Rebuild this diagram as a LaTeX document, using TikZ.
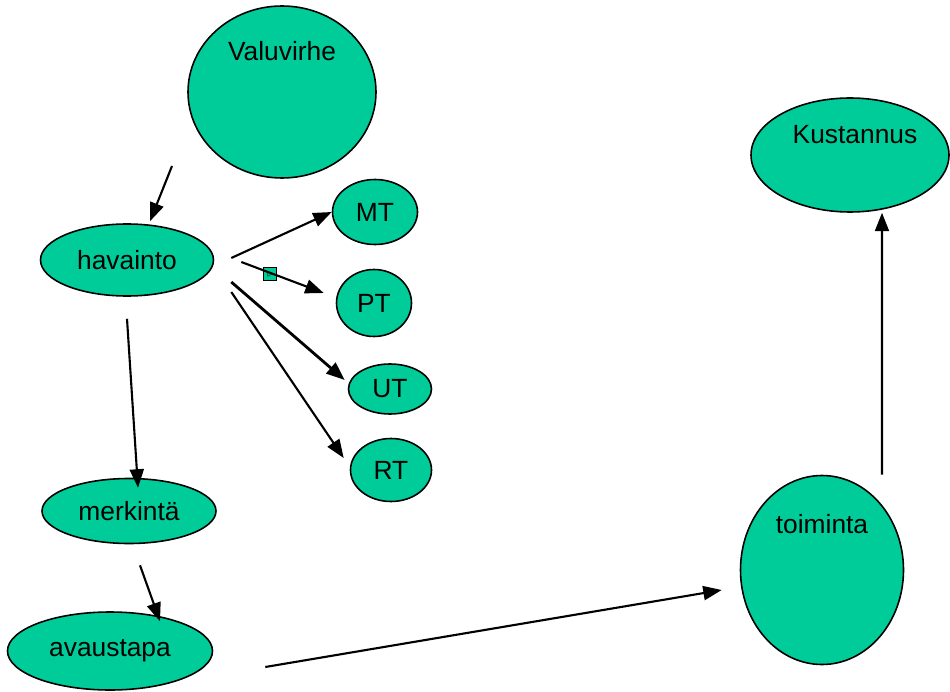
\documentclass[tikz,border=0pt]{standalone}
\usepackage{fontspec}
\setmainfont{Liberation Sans}
\usepackage{tikz}
\usetikzlibrary{shapes.geometric,arrows.meta}
\definecolor{blobgreen}{HTML}{00CC99}
\tikzset{
  blob/.style={ellipse, draw, fill=blobgreen, line width=0.9pt, inner sep=0pt, font=\fontsize{15}{18}\selectfont},
  arr/.style={-{Triangle[length=10.5pt,width=8pt]}, line width=1.2pt}
}
\begin{document}
\begin{tikzpicture}
\useasboundingbox (0,0) rectangle (19,13.82);
\node[blob, minimum width=3.76cm, minimum height=3.44cm, label={[yshift=-1.23cm, font=\fontsize{15}{18}\selectfont]north:Valuvirhe}] (valuvirhe) at (5.64,11.98) {};
\node[blob, minimum width=3.96cm, minimum height=2.28cm, label={[xshift=0.1cm, yshift=-1.05cm, font=\fontsize{15}{18}\selectfont]north:Kustannus}] (kustannus) at (17.0,10.72) {};
\node[blob, minimum width=3.46cm, minimum height=1.44cm] (havainto) at (2.54,8.62) {havainto};
\node[blob, minimum width=1.70cm, minimum height=1.30cm] (mt) at (7.5,9.58) {MT};
\node[blob, minimum width=1.50cm, minimum height=1.34cm] (pt) at (7.48,7.76) {PT};
\node[blob, minimum width=1.66cm, minimum height=1.0cm] (ut) at (7.8,6.04) {UT};
\node[blob, minimum width=1.62cm, minimum height=1.26cm] (rt) at (7.82,4.42) {RT};
\node[blob, minimum width=3.48cm, minimum height=1.30cm] (merkinta) at (2.58,3.6) {merkintä};
\node[blob, minimum width=4.1cm, minimum height=1.56cm] (avaustapa) at (2.2,0.8) {avaustapa};
\node[blob, minimum width=3.26cm, minimum height=3.78cm, label={[yshift=-1.31cm, font=\fontsize{15}{18}\selectfont]north:toiminta}] (toiminta) at (16.44,2.42) {};
\node[draw, fill=blobgreen, line width=0.7pt, minimum size=0.25cm, inner sep=0pt, font=\tiny] (merkki) at (5.4,8.34) {$\triangleright$};

\draw[arr] ([shift={(-2.2,-1.48)}]valuvirhe.center) -- ([xshift=0.46cm,yshift=0.04cm]havainto.north);
\draw[arr] ([xshift=0.34cm,yshift=0.04cm]havainto.east) -- (mt.west);
\draw[arr] ([xshift=0.54cm,yshift=-0.04cm]havainto.east) -- ([xshift=-0.24cm,yshift=0.2cm]pt.west);
\draw[arr, line width=1.6pt] ([xshift=0.34cm,yshift=-0.44cm]havainto.east) -- ([xshift=-0.06cm,yshift=0.18cm]ut.west);
\draw[arr] ([xshift=0.34cm,yshift=-0.64cm]havainto.east) -- ([xshift=-0.12cm,yshift=0.24cm]rt.west);
\draw[arr] ([yshift=-0.44cm]havainto.south) -- ([xshift=0.18cm,yshift=-0.2cm]merkinta.north);
\draw[arr] ([xshift=0.22cm,yshift=-0.42cm]merkinta.south) -- ([xshift=1.0cm,yshift=-0.2cm]avaustapa.north);
\draw[arr] ([xshift=1.04cm,yshift=-0.32cm]avaustapa.east) -- ([xshift=-0.36cm,yshift=-0.4cm]toiminta.west);
\draw[arr] ([xshift=1.2cm]toiminta.north) -- ([xshift=0.64cm]kustannus.south);
\end{tikzpicture}
\end{document}
